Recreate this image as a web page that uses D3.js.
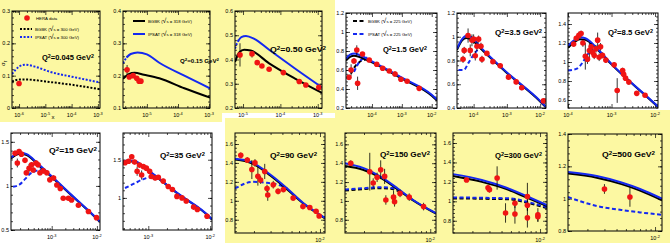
<!DOCTYPE html>
<html>
<head>
<meta charset="utf-8">
<script src="https://cdn.jsdelivr.net/npm/d3@7"></script>
<style>
body{margin:0;background:#fff;}
svg{display:block;font-family:"Liberation Sans",Arial,sans-serif;}
</style>
</head>
<body>
<svg id="chart" width="670" height="243"></svg>
<script>
// reduced cross section sigma_r vs x, one panel per Q^2 bin

const q2Values = ["0.045", "0.15", "0.50", "1.5", "3.5", "8.5", "15", "35", "90", "150", "300", "500"];

const xDomains = [
	[5.4e-7, 1.2e-3], [1.7e-6, 1.07e-3], [6.1e-6, 1.3e-3], [1.35e-5, 1.5e-2], [3.16e-5, 1.5e-2], [1e-4, 1.17e-2],
	[1.26e-4, 1.17e-2], [3.9e-4, 1.07e-2], [1.26e-3, 1.13e-2], [1.26e-3, 1.15e-2], [1.26e-3, 1.18e-2], [1.26e-3, 1.18e-2]
];
const yDomains = [
	[0, 0.3], [0.1, 0.4], [0.2, 0.6], [0.2, 1.2], [0.4, 1.2], [0.516, 1.516],
	[0.5, 1.6], [0.58, 1.85], [0.66, 1.716], [0.66, 1.72], [0.674, 1.703], [0.8, 1.4]
];
const yTicks = [
	[0, 0.1, 0.2, 0.3], [0.1, 0.2, 0.3, 0.4], [0.2, 0.3, 0.4, 0.5, 0.6], [0.2, 0.4, 0.6, 0.8, 1, 1.2],
	[0.4, 0.6, 0.8, 1, 1.2], [0.6, 0.8, 1, 1.2, 1.4], [0.5, 1, 1.5], [1, 1.5],
	[0.8, 1, 1.2, 1.4, 1.6], [0.8, 1, 1.2, 1.4, 1.6], [0.8, 1, 1.2, 1.4, 1.6], [0.8, 1, 1.2, 1.4]
];

// HERA points: [x, sigma_r, error]
const heraData = [
	[[1e-6, 0.076, 0.004]],
	[[2.3e-6, 0.218, 0.015], [2.7e-6, 0.196, 0.006], [3.6e-6, 0.200, 0.006], [4.7e-6, 0.192, 0.005], [5.6e-6, 0.183, 0.005], [6.4e-6, 0.183, 0.005]],
	[[8.3e-6, 0.419, 0.048], [1.74e-5, 0.423, 0.015], [2.4e-5, 0.387, 0.006], [3.2e-5, 0.373, 0.006], [5e-5, 0.360, 0.006],
	 [1.2e-4, 0.346, 0.006], [3.2e-4, 0.309, 0.006], [4.8e-4, 0.295, 0.006], [1.07e-3, 0.285, 0.006]],
	[[1.7e-5, 0.523, 0.03], [2.0e-5, 0.60, 0.06], [2.5e-5, 0.695, 0.03], [3.1e-5, 0.81, 0.05], [3.3e-5, 0.46, 0.07],
	 [4.8e-5, 0.768, 0.02], [8.1e-5, 0.705, 0.02], [1.44e-4, 0.66, 0.015], [2.28e-4, 0.618, 0.015], [3.8e-4, 0.59, 0.015],
	 [5.9e-4, 0.558, 0.03], [9.3e-4, 0.502, 0.015], [1.5e-3, 0.481, 0.015], [3.8e-3, 0.407, 0.015]],
	[[4.8e-5, 0.81, 0.03], [5.2e-5, 0.885, 0.03], [6.8e-5, 1.01, 0.06], [7.9e-5, 0.885, 0.05], [8.9e-5, 0.97, 0.05],
	 [1e-4, 0.98, 0.04], [1.12e-4, 0.84, 0.04], [1.26e-4, 0.92, 0.04], [1.41e-4, 0.98, 0.03], [1.66e-4, 0.92, 0.03],
	 [1.78e-4, 0.81, 0.03], [2.5e-4, 0.86, 0.02], [3.8e-4, 0.79, 0.02], [6.3e-4, 0.755, 0.02], [1.12e-3, 0.66, 0.02],
	 [1.9e-3, 0.62, 0.02], [2.8e-3, 0.57, 0.02], [1.26e-2, 0.46, 0.02]],
	[[1.35e-4, 1.19, 0.03], [1.55e-4, 1.25, 0.03], [1.78e-4, 1.28, 0.04], [2.0e-4, 1.30, 0.03], [2.2e-4, 1.20, 0.04],
	 [2.5e-4, 1.06, 0.14], [2.8e-4, 1.03, 0.05], [3.1e-4, 1.12, 0.08], [3.4e-4, 1.16, 0.04], [3.7e-4, 1.10, 0.04],
	 [4.0e-4, 1.07, 0.04], [4.4e-4, 1.14, 0.04], [4.8e-4, 1.23, 0.08], [5.2e-4, 1.05, 0.04], [5.6e-4, 1.16, 0.04],
	 [6.2e-4, 1.07, 0.03], [7.4e-4, 1.02, 0.03], [1.15e-3, 0.97, 0.03], [1.35e-3, 0.70, 0.13], [1.8e-3, 0.91, 0.03],
	 [1.9e-3, 0.87, 0.03], [2.1e-3, 0.83, 0.03], [2.5e-3, 0.79, 0.03], [3.8e-3, 0.67, 0.02], [5.9e-3, 0.65, 0.02]],
	[[1.55e-4, 1.37, 0.03], [1.74e-4, 1.26, 0.05], [1.9e-4, 1.39, 0.03], [2.14e-4, 1.36, 0.03], [2.57e-4, 1.29, 0.03],
	 [2.75e-4, 1.15, 0.03], [3.16e-4, 1.20, 0.05], [3.6e-4, 1.24, 0.03], [3.9e-4, 1.18, 0.03], [4.5e-4, 1.26, 0.03],
	 [5e-4, 1.24, 0.03], [5.5e-4, 1.15, 0.03], [6.5e-4, 1.17, 0.03], [7.8e-4, 1.15, 0.03], [9.1e-4, 1.07, 0.03],
	 [1.1e-3, 1.09, 0.03], [1.3e-3, 1.01, 0.02], [1.55e-3, 0.97, 0.02], [1.8e-3, 0.86, 0.02], [2.35e-3, 0.86, 0.02],
	 [2.75e-3, 0.84, 0.02], [3.9e-3, 0.78, 0.02], [6.5e-3, 0.71, 0.02], [9.8e-3, 0.64, 0.02]],
	[[4.2e-4, 1.46, 0.03], [4.8e-4, 1.48, 0.03], [5.4e-4, 1.54, 0.03], [6e-4, 1.47, 0.03], [6.6e-4, 1.35, 0.06],
	 [7.2e-4, 1.43, 0.03], [7.8e-4, 1.30, 0.06], [8.3e-4, 1.41, 0.03], [9.3e-4, 1.39, 0.03], [1.05e-3, 1.35, 0.03],
	 [1.12e-3, 1.28, 0.03], [1.29e-3, 1.26, 0.03], [1.45e-3, 1.27, 0.03], [1.74e-3, 1.22, 0.03], [2.1e-3, 1.15, 0.03],
	 [2.45e-3, 1.11, 0.03], [2.9e-3, 1.02, 0.03], [3.5e-3, 1.0, 0.03], [4.1e-3, 0.96, 0.03], [5.4e-3, 0.88, 0.03],
	 [6.2e-3, 0.85, 0.03], [8.9e-3, 0.76, 0.03]],
	[[1.45e-3, 1.48, 0.03], [1.7e-3, 1.43, 0.03], [1.9e-3, 1.33, 0.1], [2.05e-3, 1.40, 0.04], [2.2e-3, 1.26, 0.1],
	 [2.35e-3, 1.22, 0.04], [2.6e-3, 1.31, 0.08], [2.75e-3, 1.13, 0.04], [2.8e-3, 1.06, 0.06], [3.2e-3, 1.17, 0.04],
	 [3.6e-3, 1.10, 0.03], [4.1e-3, 1.12, 0.03], [5.2e-3, 1.03, 0.03], [6.6e-3, 0.94, 0.03], [7.8e-3, 0.93, 0.02],
	 [9.1e-3, 0.89, 0.02], [9.8e-3, 0.84, 0.02]],
	[[1.45e-3, 1.40, 0.03], [2.3e-3, 1.31, 0.2], [2.5e-3, 1.19, 0.05], [2.75e-3, 1.25, 0.05], [3e-3, 1.33, 0.1],
	 [3.3e-3, 1.26, 0.08], [3.4e-3, 1.01, 0.05], [4.1e-3, 1.04, 0.07], [4.2e-3, 0.99, 0.05], [4.8e-3, 1.08, 0.04],
	 [6e-3, 1.04, 0.04], [8.5e-3, 0.94, 0.04]],
	[[1.74e-3, 1.22, 0.02], [2.9e-3, 1.14, 0.03], [3.0e-3, 1.12, 0.03], [3.6e-3, 1.24, 0.12], [4.4e-3, 0.88, 0.1],
	 [5.5e-3, 0.98, 0.05], [5.5e-3, 0.87, 0.1], [7.4e-3, 1.05, 0.14], [7.4e-3, 0.96, 0.06], [7.4e-3, 0.83, 0.1],
	 [9.5e-3, 0.86, 0.07], [9.5e-3, 0.84, 0.05]],
	[[3e-3, 1.06, 0.03], [5.5e-3, 1.01, 0.06]]
];

// model curves [x, sigma_r]; sqrt(s)=318 GeV (solid)
const bgbk318 = [
	null,
	[[1.7e-6, 0.19], [2.6e-6, 0.205], [4e-6, 0.209], [8e-6, 0.203], [2.5e-5, 0.192], [1.6e-4, 0.161], [1.07e-3, 0.132]],
	[[6.1e-6, 0.39], [8e-6, 0.43], [1.07e-5, 0.44], [1.6e-5, 0.437], [5e-5, 0.384], [2.4e-4, 0.322], [1.3e-3, 0.262]],
	[[1.35e-5, 0.70], [1.9e-5, 0.74], [2.5e-5, 0.75], [4e-5, 0.735], [1e-4, 0.68], [1e-3, 0.51], [1e-2, 0.33], [1.5e-2, 0.28]],
	[[3.16e-5, 0.89], [4.5e-5, 0.97], [6e-5, 0.99], [8e-5, 0.98], [2e-4, 0.875], [1e-3, 0.695], [1e-2, 0.455], [1.5e-2, 0.405]],
	[[1e-4, 1.15], [1.5e-4, 1.22], [1.9e-4, 1.24], [2.5e-4, 1.235], [5e-4, 1.12], [1e-3, 0.975], [1e-2, 0.555], [1.17e-2, 0.525]],
	[[1.26e-4, 1.31], [1.6e-4, 1.35], [2e-4, 1.365], [2.8e-4, 1.35], [5e-4, 1.24], [1e-3, 1.10], [3e-3, 0.875], [1e-2, 0.625], [1.17e-2, 0.59]],
	[[3.9e-4, 1.47], [5e-4, 1.48], [6e-4, 1.475], [1e-3, 1.355], [3e-3, 1.055], [1e-2, 0.74], [1.07e-2, 0.715]],
	[[1.26e-3, 1.435], [1.6e-3, 1.42], [1.95e-3, 1.39], [2.95e-3, 1.27], [4.5e-3, 1.12], [6.6e-3, 0.975], [1.13e-2, 0.815]],
	[[1.26e-3, 1.37], [1.95e-3, 1.33], [2.95e-3, 1.25], [4.5e-3, 1.125], [6.6e-3, 1.005], [1.15e-2, 0.865]],
	[[1.26e-3, 1.26], [2.5e-3, 1.20], [4.5e-3, 1.125], [7e-3, 1.045], [1.18e-2, 0.95]],
	[[1.26e-3, 1.155], [2.5e-3, 1.13], [4.5e-3, 1.09], [7e-3, 1.05], [1.18e-2, 0.99]]
];
const ipsat318 = [
	null,
	[[2.2e-6, 0.256], [3e-6, 0.267], [5e-6, 0.272], [1e-5, 0.266], [2.5e-5, 0.24], [1.6e-4, 0.20], [1.07e-3, 0.161]],
	[[7.4e-6, 0.476], [9e-6, 0.492], [1.2e-5, 0.497], [2e-5, 0.485], [5e-5, 0.44], [2.4e-4, 0.364], [1.3e-3, 0.285]],
	[[1.35e-5, 0.72], [1.9e-5, 0.765], [2.6e-5, 0.775], [4e-5, 0.755], [1e-4, 0.69], [1e-3, 0.52], [1e-2, 0.34], [1.5e-2, 0.29]],
	[[3.16e-5, 0.9], [4.5e-5, 0.98], [6.3e-5, 1.01], [8e-5, 1.0], [2e-4, 0.885], [1e-3, 0.70], [1e-2, 0.46], [1.5e-2, 0.41]],
	[[1e-4, 1.17], [1.5e-4, 1.24], [1.9e-4, 1.26], [2.5e-4, 1.25], [5e-4, 1.13], [1e-3, 0.98], [1e-2, 0.56], [1.17e-2, 0.53]],
	[[1.26e-4, 1.32], [1.6e-4, 1.36], [2e-4, 1.375], [2.8e-4, 1.36], [5e-4, 1.25], [1e-3, 1.11], [3e-3, 0.88], [1e-2, 0.63], [1.17e-2, 0.595]],
	[[3.9e-4, 1.48], [5e-4, 1.49], [6e-4, 1.485], [1e-3, 1.36], [3e-3, 1.06], [1e-2, 0.745], [1.07e-2, 0.72]],
	[[1.26e-3, 1.445], [1.6e-3, 1.43], [1.95e-3, 1.40], [2.95e-3, 1.28], [4.5e-3, 1.13], [6.6e-3, 0.98], [1.13e-2, 0.82]],
	[[1.26e-3, 1.40], [1.95e-3, 1.35], [2.95e-3, 1.26], [4.5e-3, 1.135], [6.6e-3, 1.01], [1.15e-2, 0.87]],
	[[1.26e-3, 1.28], [2.5e-3, 1.22], [4.5e-3, 1.14], [7e-3, 1.06], [1.18e-2, 0.96]],
	[[1.26e-3, 1.165], [2.5e-3, 1.14], [4.5e-3, 1.10], [7e-3, 1.06], [1.18e-2, 1.0]]
];
// sqrt(s)=225 GeV (dashed)
const bgbk225 = [
	null, null, null,
	[[1.6e-5, 0.5], [2.5e-5, 0.62], [4e-5, 0.69], [6e-5, 0.71]],
	null, null, null, null, null,
	[[1.26e-3, 1.11], [2e-3, 1.125], [2.9e-3, 1.135], [3.8e-3, 1.13], [4.7e-3, 1.10]],
	[[1.26e-3, 1.03], [3e-3, 1.025], [5e-3, 1.02], [7e-3, 0.99], [1.18e-2, 0.93]],
	null
];
const ipsat225 = [
	null, null, null,
	[[2.5e-5, 0.58], [3.5e-5, 0.67], [5e-5, 0.72], [7e-5, 0.73]],
	[[3.5e-5, 0.72], [5e-5, 0.72], [7e-5, 0.78], [9e-5, 0.83], [1.3e-4, 0.89]],
	[[1e-4, 0.91], [1.6e-4, 0.93], [2.2e-4, 1.0], [2.7e-4, 1.07], [3.7e-4, 1.12], [5e-4, 1.13]],
	[[1.4e-4, 0.99], [2e-4, 1.02], [2.6e-4, 1.08], [3.2e-4, 1.13], [4.5e-4, 1.17], [6e-4, 1.19]],
	[[4.2e-4, 1.13], [6e-4, 1.19], [8e-4, 1.24], [1.1e-3, 1.27], [1.5e-3, 1.26]],
	[[1.26e-3, 1.13], [1.95e-3, 1.2], [2.75e-3, 1.19], [3.6e-3, 1.17], [4.5e-3, 1.13]],
	[[1.26e-3, 1.12], [2e-3, 1.135], [2.9e-3, 1.145], [3.8e-3, 1.14], [4.7e-3, 1.11]],
	[[1.26e-3, 1.04], [3e-3, 1.035], [5e-3, 1.03], [7e-3, 1.0], [1.18e-2, 0.94]],
	[[1.26e-3, 1.01], [2.5e-3, 0.955], [4.5e-3, 0.93], [7e-3, 0.915], [1.18e-2, 0.90]]
];
// sqrt(s)=300 GeV (dotted)
const bgbk300 = [
	[[5.4e-7, 0.082], [1e-6, 0.088], [2e-6, 0.088], [1e-5, 0.082], [1e-4, 0.072], [1.2e-3, 0.058]]
];
const ipsat300 = [
	[[5.4e-7, 0.105], [1e-6, 0.128], [1.7e-6, 0.134], [4e-6, 0.128], [1.5e-5, 0.112], [1.3e-4, 0.095], [1.2e-3, 0.079]],
	[[1.7e-6, 0.238], [2e-6, 0.25], [2.4e-6, 0.26]],
	[[6.1e-6, 0.445], [6.8e-6, 0.465], [7.8e-6, 0.482]]
];

// layout: frame [left, top, right, bottom] of each panel
const frames = [
	[12, 11, 100, 108], [123, 11, 210, 108], [235, 11, 322, 108], [346, 13, 437, 108], [457, 13, 546, 108], [568, 13, 658, 108],
	[11, 133, 100, 230], [123, 133, 212, 230], [235, 133, 325, 233], [345, 133, 436, 233], [453, 133, 547, 233], [568, 134, 662, 231]
];
// Q2 label box: start x, baseline y, width
const labelBox = [
	[42, 60, 52], [180, 63, 39], [270, 52, 56], [383, 52, 44], [495, 35, 47], [608, 35, 45],
	[49, 153, 48], [160, 158, 45], [270, 158, 47], [380, 157, 50], [495, 158, 47], [602, 157, 53]
];
const yellowBlocks = [[0, 0, 335, 113], [0, 113, 222, 122], [335, 110, 670, 118], [225, 118, 670, 243]];

const YELLOW = "#fcf8a2";
const RED = "#f01414";
const BLUE = "#1428f0";

const svg = d3.select("#chart");
svg.append("rect").attr("width", 670).attr("height", 243).attr("fill", "#fff");
svg.selectAll(".bg").data(yellowBlocks).enter().append("rect")
	.attr("class", "bg")
	.attr("x", d => d[0]).attr("y", d => d[1])
	.attr("width", d => d[2] - d[0]).attr("height", d => d[3] - d[1])
	.attr("fill", YELLOW);

function supText(sel, base, sup, size){
	sel.append("tspan").text(base);
	sel.append("tspan").attr("dy", -size * 0.45).attr("font-size", size * 0.7).text(sup);
}

function drawPanel(i){
	const [l, t, r, b] = frames[i];
	const x = d3.scaleLog().domain(xDomains[i]).range([l, r]);
	const y = d3.scaleLinear().domain(yDomains[i]).range([b, t]);
	const g = svg.append("g").attr("class", "panel" + i);

	g.append("clipPath").attr("id", "clip" + i)
		.append("rect").attr("x", l).attr("y", t).attr("width", r - l).attr("height", b - t);

	// decade ticks and minor ticks
	const lo = Math.log10(xDomains[i][0]), hi = Math.log10(xDomains[i][1]);
	const majors = [], minors = [];
	for (let e = Math.floor(lo); e <= Math.ceil(hi); e++){
		const v = Math.pow(10, e);
		if (e >= lo - 1e-9 && e <= hi + 1e-9) majors.push(v);
		for (let k = 2; k < 10; k++){
			const m = k * v;
			if (m >= xDomains[i][0] && m <= xDomains[i][1]) minors.push(m);
		}
	}
	const yt = yTicks[i];
	const step = yt[1] - yt[0];
	const yMinor = [];
	for (let v = yt[0] - step; v <= yDomains[i][1] + 1e-9; v += step / 5){
		if (v >= yDomains[i][0] - 1e-9) yMinor.push(v);
	}
	const yMajor = yt.filter(v => v >= yDomains[i][0] - 1e-9 && v <= yDomains[i][1] + 1e-9);

	const axes = g.append("g").attr("class", "axes");
	axes.append("g").attr("transform", `translate(0,${b})`)
		.call(d3.axisBottom(x).tickValues(majors).tickSize(-4).tickFormat(""));
	axes.append("g").attr("transform", `translate(0,${b})`)
		.call(d3.axisBottom(x).tickValues(minors).tickSize(-2).tickFormat(""));
	axes.append("g").attr("transform", `translate(0,${t})`)
		.call(d3.axisTop(x).tickValues(majors).tickSize(-4).tickFormat(""));
	axes.append("g").attr("transform", `translate(0,${t})`)
		.call(d3.axisTop(x).tickValues(minors).tickSize(-2).tickFormat(""));
	axes.append("g").attr("transform", `translate(${l},0)`)
		.call(d3.axisLeft(y).tickValues(yMajor).tickSize(-4).tickFormat(""));
	axes.append("g").attr("transform", `translate(${l},0)`)
		.call(d3.axisLeft(y).tickValues(yMinor).tickSize(-2).tickFormat(""));
	axes.append("g").attr("transform", `translate(${r},0)`)
		.call(d3.axisRight(y).tickValues(yMajor).tickSize(-4).tickFormat(""));
	axes.append("g").attr("transform", `translate(${r},0)`)
		.call(d3.axisRight(y).tickValues(yMinor).tickSize(-2).tickFormat(""));
	axes.selectAll(".domain").remove();
	axes.selectAll(".tick line").attr("stroke", "#000").attr("stroke-width", 0.7);

	// tick labels
	g.selectAll(".ylab").data(yMajor).enter().append("text")
		.attr("class", "ylab")
		.attr("x", l - 2).attr("y", d => y(d) + 2)
		.attr("text-anchor", "end").attr("font-size", 5.5)
		.text(d => String(+d.toFixed(2)));
	g.selectAll(".xlab").data(majors).enter().append("text")
		.attr("class", "xlab")
		.attr("x", d => x(d)).attr("y", b + 9)
		.attr("text-anchor", "middle").attr("font-size", 5.5)
		.each(function(d){ supText(d3.select(this), "10", String(Math.round(Math.log10(d))), 5.5); });

	// curves
	const line = d3.line().x(d => x(d[0])).y(d => y(d[1])).curve(d3.curveMonotoneX);
	const plot = g.append("g").attr("clip-path", `url(#clip${i})`);
	const series = [
		[bgbk300[i], "#000", "2,1.6"],
		[ipsat300[i], BLUE, "2,1.6"],
		[bgbk225[i], "#000", "4,2.5"],
		[ipsat225[i], BLUE, "4,2.5"],
		[bgbk318[i], "#000", null],
		[ipsat318[i], BLUE, null]
	];
	series.forEach(([pts, col, dash]) => {
		if (!pts) return;
		plot.append("path").datum(pts)
			.attr("d", line)
			.attr("fill", "none")
			.attr("stroke", col)
			.attr("stroke-width", 2)
			.attr("stroke-dasharray", dash);
	});

	// data with error bars
	const pts = heraData[i];
	plot.selectAll(".err").data(pts).enter().append("line")
		.attr("x1", d => x(d[0])).attr("x2", d => x(d[0]))
		.attr("y1", d => y(d[1] - d[2])).attr("y2", d => y(d[1] + d[2]))
		.attr("stroke", "#000").attr("stroke-width", 0.8);
	plot.selectAll(".pt").data(pts).enter().append("circle")
		.attr("cx", d => x(d[0])).attr("cy", d => y(d[1]))
		.attr("r", 2.8).attr("fill", RED);

	// frame
	g.append("rect").attr("x", l).attr("y", t).attr("width", r - l).attr("height", b - t)
		.attr("fill", "none").attr("stroke", "#000").attr("stroke-width", 1);

	// Q2 label: shrink the font when it is too wide, stretch it when too narrow
	const baseSize = 7.3;
	const lab = g.append("text").attr("x", labelBox[i][0]).attr("y", labelBox[i][1])
		.attr("font-size", baseSize).attr("font-weight", "bold");
	lab.append("tspan").text("Q");
	lab.append("tspan").attr("dy", "-0.42em").attr("font-size", "0.71em").text("2");
	lab.append("tspan").attr("dy", "0.3em").text("=" + q2Values[i] + " GeV");
	lab.append("tspan").attr("dy", "-0.42em").attr("font-size", "0.71em").text("2");
	const natural = lab.node().getComputedTextLength();
	const want = labelBox[i][2];
	if (natural > want){
		lab.attr("font-size", baseSize * want / natural);
	} else {
		lab.attr("textLength", want).attr("lengthAdjust", "spacingAndGlyphs");
	}
}

d3.range(12).forEach(drawPanel);

// legends
function legendEntry(x0, yy, kind, col, dash, label){
	const lg = svg.append("g");
	if (kind === "dot"){
		lg.append("circle").attr("cx", x0 + 6).attr("cy", yy).attr("r", 2.8).attr("fill", col);
	} else {
		lg.append("line").attr("x1", x0).attr("x2", x0 + 12).attr("y1", yy).attr("y2", yy)
			.attr("stroke", col).attr("stroke-width", 2).attr("stroke-dasharray", dash);
	}
	const tx = lg.append("text").attr("x", x0 + 15).attr("y", yy + 1.6).attr("font-size", 4.3);
	if (label.indexOf("√") >= 0){
		const parts = label.split("√");
		tx.append("tspan").text(parts[0]);
		tx.append("tspan").attr("font-size", 7).text("√");
		tx.append("tspan").text(parts[1]);
	} else {
		tx.text(label);
	}
}
legendEntry(21, 18, "dot", RED, null, "HERA data");
legendEntry(20, 29, "line", "#000", "2,1.6", "BGBK (√s = 300 GeV)");
legendEntry(20, 37, "line", BLUE, "2,1.6", "IPSAT (√s = 300 GeV)");
legendEntry(133, 21, "line", "#000", null, "BGBK (√s = 318 GeV)");
legendEntry(133, 34, "line", BLUE, null, "IPSAT (√s = 318 GeV)");
legendEntry(353, 21, "line", "#000", "4,2.5", "BGBK (√s = 225 GeV)");
legendEntry(353, 34, "line", BLUE, "4,2.5", "IPSAT (√s = 225 GeV)");

// axis titles
const yt0 = svg.append("text").attr("transform", "translate(5,66) rotate(-90)").attr("font-size", 6);
yt0.append("tspan").text("σ");
yt0.append("tspan").attr("dy", 1.5).attr("font-size", 4.5).text("r");
svg.append("text").attr("x", 53).attr("y", 119).attr("font-size", 6).attr("text-anchor", "middle").text("x");
</script>
</body>
</html>
